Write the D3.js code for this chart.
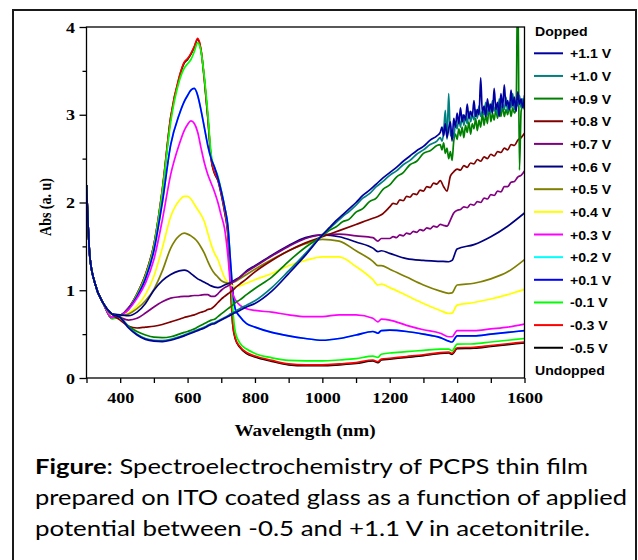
<!DOCTYPE html>
<html>
<head>
<meta charset="utf-8">
<script src="https://cdn.jsdelivr.net/npm/d3@7"></script>
<style>
  body { margin: 0; background: #fff; }
</style>
</head>
<body>
<svg id="chart" width="638" height="560"></svg>
<script>
// wavelength grid (nm) shared by the smooth curves
var wl = [300, 310, 325, 350, 375, 400, 425, 450, 475, 500,
  525, 550, 575, 590, 600, 610, 620, 630, 640, 650,
  660, 670, 680, 690, 700, 710, 720, 727, 734, 742,
  755, 775, 800, 850, 900, 950, 1000, 1050, 1100, 1150,
  1165, 1175, 1200, 1250, 1300, 1350, 1375, 1385, 1400, 1450,
  1500, 1550, 1600];

// finer grid for the noisy near-IR part of the most doped curves
var nirWl = [1000, 1020, 1040, 1060, 1080, 1100, 1120, 1140, 1160, 1180,
  1200, 1220, 1240, 1260, 1280, 1300, 1320, 1340,
  1350, 1355, 1360, 1365, 1370, 1375, 1380, 1385, 1390, 1395,
  1400, 1405, 1410, 1415, 1420, 1425, 1430, 1435, 1440, 1445,
  1450, 1455, 1460, 1465, 1470, 1475, 1480, 1485, 1490, 1495,
  1500, 1505, 1510, 1515, 1520, 1525, 1530, 1535, 1540, 1545,
  1550, 1555, 1560, 1565, 1570, 1575, 1580, 1585, 1590, 1595, 1600];

// grid for the slightly noisy tail of +0.8 V and +0.7 V
var tailWl = [1200, 1210, 1220, 1230, 1240, 1250, 1260, 1270, 1280, 1290,
  1300, 1310, 1320, 1330, 1340, 1350, 1360, 1370, 1380, 1390,
  1400, 1410, 1420, 1430, 1440, 1450, 1460, 1470, 1480, 1490,
  1500, 1510, 1520, 1530, 1540, 1550, 1560, 1570, 1580, 1590, 1600];

var labels = ["+1.1 V", "+1.0 V", "+0.9 V", "+0.8 V", "+0.7 V", "+0.6 V", "+0.5 V",
  "+0.4 V", "+0.3 V", "+0.2 V", "+0.1 V", "-0.1 V", "-0.3 V", "-0.5 V"];
var colors = ["#0000A0", "#008080", "#008000", "#800000", "#800080", "#000080", "#808000",
  "#FFFF00", "#FF00FF", "#00FFFF", "#0000FF", "#00FF00", "#FF0000", "#000000"];

// +1.1 V, +1.0 V, +0.9 V : smooth part up to 950 nm, then noisy NIR part
var absP11 = [2.2, 1.38, 1.08, 0.85, 0.73, 0.69, 0.57, 0.49, 0.44, 0.42,
  0.415, 0.43, 0.46, 0.48, 0.495, 0.51, 0.525, 0.54, 0.555, 0.57,
  0.59, 0.61, 0.62, 0.64, 0.66, 0.68, 0.70, 0.715, 0.73, 0.745,
  0.77, 0.81, 0.85, 0.99, 1.19, 1.40];
var nirP11 = [1.63, 1.71, 1.79, 1.86, 1.93, 2.00, 2.08, 2.14, 2.21, 2.28,
  2.34, 2.40, 2.47, 2.53, 2.59, 2.64, 2.71, 2.76,
  2.80, 2.86, 2.76, 2.90, 2.74, 2.84, 2.92, 2.70, 2.96, 2.86,
  3.02, 2.90, 3.08, 2.92, 3.00, 2.94, 3.12, 2.96, 3.04, 2.98,
  3.16, 2.98, 3.06, 3.00, 3.42, 3.02, 3.10, 2.98, 3.18, 3.04,
  3.12, 3.02, 3.30, 3.06, 3.14, 2.98, 3.24, 3.08, 3.34, 3.10,
  3.16, 3.06, 3.28, 3.10, 3.20, 3.04, 3.26, 3.12, 3.18, 3.08, 3.22];

var absP10 = [2.2, 1.38, 1.08, 0.85, 0.73, 0.69, 0.58, 0.50, 0.45, 0.43,
  0.425, 0.44, 0.47, 0.49, 0.505, 0.52, 0.535, 0.55, 0.565, 0.58,
  0.60, 0.62, 0.63, 0.65, 0.67, 0.69, 0.71, 0.73, 0.745, 0.76,
  0.79, 0.83, 0.88, 1.03, 1.22, 1.42];
var nirP10 = [1.63, 1.70, 1.77, 1.84, 1.90, 1.97, 2.05, 2.10, 2.18, 2.24,
  2.31, 2.36, 2.43, 2.48, 2.55, 2.60, 2.66, 2.70,
  2.74, 2.70, 2.80, 3.05, 2.72, 3.24, 2.76, 2.82, 2.74, 2.90,
  2.84, 2.96, 2.86, 3.00, 2.88, 2.98, 2.90, 3.04, 2.92, 3.00,
  2.94, 3.06, 2.96, 3.10, 2.98, 3.04, 3.00, 3.14, 3.00, 3.08,
  3.02, 3.16, 3.04, 3.10, 3.00, 3.18, 3.04, 3.12, 3.06, 3.20,
  3.04, 3.14, 3.08, 3.24, 3.06, 3.16, 3.10, 3.22, 3.08, 3.18, 3.15];

var absP09 = [2.2, 1.38, 1.08, 0.85, 0.73, 0.69, 0.59, 0.53, 0.49, 0.465,
  0.46, 0.47, 0.50, 0.52, 0.53, 0.545, 0.56, 0.58, 0.60, 0.62,
  0.64, 0.66, 0.67, 0.70, 0.73, 0.76, 0.79, 0.81, 0.83, 0.86,
  0.89, 0.95, 1.02, 1.15, 1.33, 1.49];
var nirP09 = [1.62, 1.68, 1.72, 1.78, 1.81, 1.89, 1.93, 2.01, 2.05, 2.15,
  2.20, 2.29, 2.34, 2.43, 2.47, 2.56, 2.59, 2.65,
  2.66, 2.60, 2.68, 2.56, 2.62, 2.50, 2.58, 2.48, 2.70, 2.78,
  2.72, 2.84, 2.76, 2.86, 2.74, 2.88, 2.80, 2.92, 2.78, 2.90,
  2.84, 2.96, 2.82, 2.94, 2.86, 3.02, 2.88, 3.00, 2.90, 3.12,
  2.92, 3.02, 2.94, 3.06, 2.96, 3.08, 2.98, 3.10, 2.98, 3.06,
  3.00, 3.10, 2.98, 3.08, 3.02, 3.06, 4.60, 2.37, 3.04, 3.10, 3.06];

// +0.8 V and +0.7 V : shared grid up to 1175 nm, then a slightly noisy tail
var absP08 = [2.2, 1.38, 1.08, 0.85, 0.73, 0.66, 0.59, 0.57, 0.58, 0.59,
  0.61, 0.64, 0.67, 0.69, 0.70, 0.71, 0.72, 0.735, 0.75, 0.76,
  0.78, 0.79, 0.82, 0.86, 0.90, 0.93, 0.96, 0.98, 1.00, 1.03,
  1.07, 1.13, 1.21, 1.34, 1.45, 1.54, 1.61, 1.68, 1.75, 1.82,
  1.84, 1.86];
var tailP08 = [1.95, 1.99, 1.98, 2.03, 2.02, 2.07, 2.06, 2.10, 2.09, 2.14,
  2.13, 2.18, 2.17, 2.22, 2.21, 2.25, 2.18, 2.13, 2.30, 2.35,
  2.38, 2.37, 2.42, 2.40, 2.45, 2.44, 2.49, 2.47, 2.52, 2.50,
  2.55, 2.53, 2.58, 2.57, 2.62, 2.60, 2.66, 2.65, 2.71, 2.74, 2.79];
var absP07 = [2.2, 1.38, 1.08, 0.85, 0.73, 0.69, 0.66, 0.68, 0.74, 0.81,
  0.87, 0.91, 0.925, 0.93, 0.93, 0.935, 0.94, 0.94, 0.945, 0.95,
  0.95, 0.93, 0.93, 0.96, 1.00, 1.03, 1.05, 1.07, 1.09, 1.11,
  1.15, 1.21, 1.27, 1.39, 1.50, 1.59, 1.635, 1.64, 1.62, 1.60,
  1.56, 1.59];
var tailP07 = [1.59, 1.61, 1.60, 1.63, 1.62, 1.65, 1.64, 1.67, 1.66, 1.69,
  1.68, 1.71, 1.70, 1.73, 1.72, 1.75, 1.74, 1.73, 1.80, 1.88,
  1.91, 1.92, 1.95, 1.94, 1.98, 1.97, 2.01, 2.00, 2.05, 2.04,
  2.09, 2.08, 2.13, 2.12, 2.18, 2.18, 2.23, 2.24, 2.29, 2.31, 2.36];

// the other curves on the shared grid
var absP06 = [2.2, 1.38, 1.08, 0.85, 0.73, 0.72, 0.71, 0.75, 0.85, 1.00,
  1.11, 1.18, 1.22, 1.23, 1.22, 1.19, 1.16, 1.13, 1.11, 1.09,
  1.07, 1.05, 1.035, 1.03, 1.04, 1.06, 1.075, 1.085, 1.10, 1.12,
  1.15, 1.22, 1.28, 1.40, 1.51, 1.60, 1.63, 1.61, 1.55, 1.48,
  1.44, 1.45, 1.42, 1.36, 1.34, 1.33, 1.325, 1.34, 1.47, 1.52,
  1.61, 1.73, 1.88];
var absP05 = [2.2, 1.38, 1.08, 0.85, 0.73, 0.71, 0.73, 0.79, 0.88, 1.01,
  1.22, 1.48, 1.62, 1.65, 1.64, 1.62, 1.59, 1.55, 1.49, 1.42,
  1.33, 1.25, 1.19, 1.15, 1.11, 1.09, 1.08, 1.08, 1.09, 1.10,
  1.13, 1.18, 1.24, 1.35, 1.45, 1.53, 1.58, 1.56, 1.45, 1.33,
  1.28, 1.28, 1.24, 1.15, 1.06, 0.99, 0.965, 0.97, 1.06, 1.08,
  1.13, 1.21, 1.35];
var absP04 = [2.2, 1.38, 1.08, 0.85, 0.72, 0.71, 0.74, 0.82, 0.95, 1.16,
  1.48, 1.84, 2.02, 2.07, 2.07, 2.04, 1.98, 1.92, 1.86, 1.78,
  1.65, 1.52, 1.42, 1.35, 1.24, 1.14, 1.09, 1.07, 1.05, 1.04,
  1.05, 1.08, 1.12, 1.19, 1.28, 1.34, 1.38, 1.38, 1.27, 1.12,
  1.06, 1.07, 1.03, 0.94, 0.85, 0.77, 0.735, 0.74, 0.83, 0.86,
  0.90, 0.95, 1.01];
var absP03 = [2.2, 1.38, 1.08, 0.85, 0.69, 0.71, 0.78, 0.91, 1.08, 1.35,
  1.80, 2.32, 2.66, 2.82, 2.89, 2.93, 2.90, 2.80, 2.62, 2.45,
  2.32, 2.22, 2.12, 2.00, 1.85, 1.70, 1.38, 1.08, 0.96, 0.89,
  0.83, 0.79, 0.77, 0.75, 0.72, 0.70, 0.70, 0.72, 0.72, 0.68,
  0.64, 0.67, 0.66, 0.60, 0.55, 0.51, 0.47, 0.47, 0.54, 0.54,
  0.56, 0.58, 0.615];
var absP02 = [2.2, 1.38, 1.08, 0.85, 0.69, 0.71, 0.79, 0.93, 1.13, 1.45,
  2.00, 2.66, 3.00, 3.15, 3.22, 3.28, 3.30, 3.22, 3.05, 2.85,
  2.65, 2.50, 2.40, 2.28, 2.13, 1.95, 1.72, 1.35, 1.00, 0.78,
  0.70, 0.62, 0.58, 0.52, 0.48, 0.45, 0.43, 0.45, 0.49, 0.53,
  0.51, 0.54, 0.545, 0.53, 0.50, 0.46, 0.42, 0.41, 0.48, 0.48,
  0.50, 0.52, 0.54];
var absP01 = [2.2, 1.38, 1.08, 0.85, 0.69, 0.71, 0.79, 0.93, 1.13, 1.45,
  2.00, 2.66, 3.00, 3.15, 3.22, 3.28, 3.30, 3.22, 3.05, 2.85,
  2.65, 2.50, 2.40, 2.28, 2.13, 1.95, 1.72, 1.35, 1.00, 0.78,
  0.70, 0.62, 0.58, 0.52, 0.48, 0.45, 0.43, 0.45, 0.49, 0.53,
  0.51, 0.54, 0.545, 0.53, 0.50, 0.46, 0.42, 0.41, 0.48, 0.48,
  0.50, 0.52, 0.54];
var absM01 = [2.2, 1.38, 1.08, 0.85, 0.68, 0.71, 0.79, 0.95, 1.16, 1.50,
  2.12, 2.92, 3.38, 3.53, 3.58, 3.63, 3.72, 3.82, 3.72, 3.42,
  3.02, 2.55, 2.40, 2.30, 2.14, 1.95, 1.70, 1.30, 0.80, 0.52,
  0.40, 0.33, 0.28, 0.23, 0.20, 0.195, 0.195, 0.205, 0.22, 0.25,
  0.235, 0.27, 0.285, 0.30, 0.315, 0.33, 0.33, 0.31, 0.385, 0.39,
  0.41, 0.43, 0.45];
var absM03 = [2.2, 1.38, 1.08, 0.85, 0.68, 0.71, 0.80, 0.96, 1.18, 1.52,
  2.15, 2.98, 3.43, 3.60, 3.64, 3.70, 3.78, 3.87, 3.74, 3.40,
  2.98, 2.50, 2.34, 2.26, 2.10, 1.90, 1.62, 1.10, 0.62, 0.45,
  0.36, 0.29, 0.25, 0.20, 0.16, 0.15, 0.15, 0.16, 0.175, 0.205,
  0.185, 0.215, 0.225, 0.245, 0.265, 0.29, 0.295, 0.28, 0.345, 0.35,
  0.37, 0.39, 0.41];
var absM05 = [2.2, 1.38, 1.08, 0.85, 0.68, 0.71, 0.80, 0.96, 1.18, 1.52,
  2.14, 2.97, 3.42, 3.59, 3.63, 3.69, 3.77, 3.86, 3.73, 3.39,
  2.97, 2.49, 2.33, 2.25, 2.09, 1.89, 1.61, 1.09, 0.61, 0.44,
  0.35, 0.28, 0.24, 0.19, 0.15, 0.14, 0.14, 0.15, 0.165, 0.195,
  0.175, 0.205, 0.215, 0.235, 0.255, 0.28, 0.285, 0.27, 0.335, 0.34,
  0.36, 0.38, 0.40];

var xTicks = [300, 400, 500, 600, 700, 800, 900, 1000, 1100, 1200, 1300, 1400, 1500, 1600];
var yTicks = [0, 0.5, 1, 1.5, 2, 2.5, 3, 3.5, 4];

var captionLines = ["Spectroelectrochemistry of PCPS thin film",
  "prepared on ITO coated glass as a function of applied",
  "potential between -0.5 and +1.1 V in acetonitrile."];

// build point lists
function onGrid(vals) {
  return vals.map(function (v, i) { return [wl[i], v]; });
}
function withTail(base, tail, grid) {
  return onGrid(base).concat(tail.map(function (v, i) { return [grid[i], v]; }));
}
var seriesPts = [
  withTail(absP11, nirP11, nirWl), withTail(absP10, nirP10, nirWl), withTail(absP09, nirP09, nirWl),
  withTail(absP08, tailP08, tailWl), withTail(absP07, tailP07, tailWl),
  onGrid(absP06), onGrid(absP05), onGrid(absP04),
  onGrid(absP03), onGrid(absP02), onGrid(absP01), onGrid(absM01), onGrid(absM03), onGrid(absM05)
];
// order the curves are painted in (last one on top)
var drawOrder = [13, 9, 12, 11, 10, 8, 7, 6, 5, 4, 3, 2, 1, 0];

var svg = d3.select("#chart");
var plotL = 86.5, plotR = 524.5, plotT = 27, plotB = 378;
var stretch = 1.2; // the original figure text is widened

var xScale = d3.scaleLinear().domain([300, 1600]).range([plotL, plotR]);
var yScale = d3.scaleLinear().domain([0, 4]).range([plotB, plotT]);

svg.append("rect").attr("width", 638).attr("height", 560).attr("fill", "#fff");

// outer box around figure + caption
svg.append("rect")
  .attr("x", 13).attr("y", 10).attr("width", 623).attr("height", 600)
  .attr("fill", "none").attr("stroke", "#1a1a1a").attr("stroke-width", 2);

svg.append("clipPath").attr("id", "plotClip")
  .append("rect")
  .attr("x", plotL).attr("y", plotT)
  .attr("width", plotR - plotL).attr("height", plotB - plotT);

var line = d3.line()
  .x(function (d) { return xScale(d[0]); })
  .y(function (d) { return yScale(d[1]); })
  .curve(d3.curveMonotoneX);

var lines = svg.append("g").attr("clip-path", "url(#plotClip)");
drawOrder.forEach(function (i) {
  lines.append("path")
    .datum(seriesPts[i])
    .attr("d", line)
    .attr("fill", "none")
    .attr("stroke", colors[i])
    .attr("stroke-width", 1.7)
    .attr("stroke-linejoin", "round");
});

// x axis
var xAxis = d3.axisBottom(xScale)
  .tickValues(xTicks)
  .tickSize(5)
  .tickFormat(function (d) { return d % 200 === 0 ? d : ""; });
var gx = svg.append("g")
  .attr("transform", "translate(0," + plotB + ")")
  .call(xAxis)
  .attr("font-family", "'Liberation Serif', 'Times New Roman', serif")
  .attr("font-size", 15)
  .attr("font-weight", "bold");
gx.select(".domain").remove();
gx.selectAll(".tick line").attr("stroke", "#000").attr("stroke-width", 1.3);
gx.selectAll(".tick text")
  .attr("y", 0).attr("dy", 0)
  .attr("fill", "#000")
  .attr("transform", "translate(0,25) scale(" + stretch + ",1)");

// y axis
var yAxis = d3.axisLeft(yScale)
  .tickValues(yTicks)
  .tickSize(7)
  .tickFormat(function (d) { return Number.isInteger(d) ? d : ""; });
var gy = svg.append("g")
  .attr("transform", "translate(" + plotL + ",0)")
  .call(yAxis)
  .attr("font-family", "'Liberation Serif', 'Times New Roman', serif")
  .attr("font-size", 15)
  .attr("font-weight", "bold");
gy.select(".domain").remove();
gy.selectAll(".tick line")
  .attr("stroke", "#000").attr("stroke-width", 1.3)
  .attr("x2", function (d) { return Number.isInteger(d) ? -7 : -4; });
gy.selectAll(".tick text")
  .attr("x", 0).attr("dy", "0.34em")
  .attr("fill", "#000")
  .attr("transform", "translate(-11.5,0) scale(" + stretch + ",1)");

// plot frame
svg.append("rect")
  .attr("x", plotL).attr("y", plotT)
  .attr("width", plotR - plotL).attr("height", plotB - plotT)
  .attr("fill", "none").attr("stroke", "#000").attr("stroke-width", 1.3);

// axis titles
svg.append("text")
  .attr("transform", "translate(305,436) scale(" + stretch + ",1)")
  .attr("text-anchor", "middle")
  .attr("font-family", "'Liberation Serif', 'Times New Roman', serif")
  .attr("font-weight", "bold")
  .attr("font-size", 16)
  .text("Wavelength (nm)");

svg.append("text")
  .attr("transform", "translate(51,207) rotate(-90) scale(1," + stretch + ")")
  .attr("text-anchor", "middle")
  .attr("font-family", "'Liberation Serif', 'Times New Roman', serif")
  .attr("font-weight", "bold")
  .attr("font-size", 14)
  .text("Abs (a. u)");

// legend
var legend = svg.append("g")
  .attr("font-family", "'Liberation Sans', Arial, sans-serif")
  .attr("font-weight", "bold")
  .attr("font-size", 12.5)
  .attr("fill", "#000");
legend.append("text")
  .attr("transform", "translate(535,36) scale(1.13,1)")
  .text("Dopped");
labels.forEach(function (lab, i) {
  var yy = 53.3 + i * 22.65;
  legend.append("line")
    .attr("x1", 534).attr("x2", 563).attr("y1", yy).attr("y2", yy)
    .attr("stroke", colors[i]).attr("stroke-width", 2);
  legend.append("text")
    .attr("transform", "translate(570," + (yy + 5) + ") scale(1.13,1)")
    .text(lab);
});
legend.append("text")
  .attr("transform", "translate(535,375) scale(1.13,1)")
  .text("Undopped");

// caption
var cap = svg.append("g")
  .attr("font-family", "Lato, 'Open Sans', sans-serif")
  .attr("font-size", 21)
  .attr("fill", "#000");
var capY = [474, 505, 536];
var capW = [553, 592, 555];
captionLines.forEach(function (t, i) {
  var tx = cap.append("text")
    .attr("x", 35).attr("y", capY[i])
    .attr("textLength", capW[i])
    .attr("lengthAdjust", "spacingAndGlyphs");
  if (i === 0) {
    tx.append("tspan").attr("font-weight", "bold").text("Figure");
    tx.append("tspan").text(": " + t);
  } else {
    tx.text(t);
  }
});
</script>
</body>
</html>
